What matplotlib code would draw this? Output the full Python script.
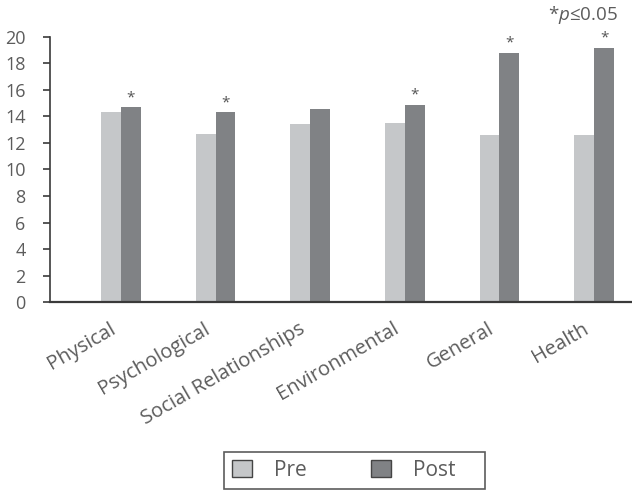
import numpy as np
import matplotlib
matplotlib.use("Agg")
import matplotlib.pyplot as plt
import matplotlib.transforms as mtransforms

categories = ["Physical", "Psychological", "Social Relationships",
              "Environmental", "General", "Health"]
pre = [14.3, 12.7, 13.4, 13.5, 12.6, 12.6]
post = [14.7, 14.3, 14.6, 14.9, 18.8, 19.2]
significant = [True, True, False, True, True, True]
yticks = list(range(0, 21, 2))

plt.rcParams["font.family"] = ["Open Sans", "DejaVu Sans"]
plt.rcParams["mathtext.fontset"] = "custom"
plt.rcParams["mathtext.it"] = "Open Sans:italic"
plt.rcParams["mathtext.rm"] = "Open Sans"

text_col = "#5c5c5c"
pre_col = "#c5c7c9"
post_col = "#808285"

fig = plt.figure(figsize=(6.32, 4.92), dpi=100)
ax = fig.add_axes([0.079, 0.386, 0.921, 0.539])

x = np.arange(len(categories))
w = 0.21
ax.bar(x - w / 2, pre, w, color=pre_col, label="Pre", linewidth=0)
ax.bar(x + w / 2, post, w, color=post_col, label="Post", linewidth=0)

for xi, v, s in zip(x, post, significant):
    if s:
        ax.text(xi + w / 2, v + 0.15, "*", ha="center", va="bottom",
                fontsize=11, color="#555555")

ax.set_xlim(-0.75, 5.40)
ax.set_ylim(0, 20)
ax.set_yticks(yticks)
ax.tick_params(axis="y", labelsize=13, colors="#3a3a3a", labelcolor=text_col,
               length=5, width=1.2, direction="out", pad=12.5)
ax.tick_params(axis="x", length=0, pad=7)
ax.set_xticks(x)
ax.set_xticklabels(categories, rotation=30, ha="right",
                   rotation_mode="anchor", fontsize=14.5, color=text_col)
# labels sit a bit left of and below the group centre
shift = mtransforms.ScaledTranslation(-12 / 100, -7 / 100, fig.dpi_scale_trans)
for lab in ax.get_xticklabels():
    lab.set_transform(lab.get_transform() + shift)

for sp in ["top", "right"]:
    ax.spines[sp].set_visible(False)
ax.spines["left"].set_color("#3a3a3a")
ax.spines["bottom"].set_color("#3a3a3a")
ax.spines["left"].set_linewidth(1.2)
ax.spines["bottom"].set_linewidth(1.6)

fig.text(0.978, 0.970, r"*$p$≤0.05", ha="right", va="center",
         fontsize=13.5, color=text_col)

leg = fig.legend(["Pre", "Post    "], loc="center",
                 bbox_to_anchor=(0.561, 0.044), ncol=2,
                 frameon=True, fancybox=False, fontsize=15,
                 handlelength=0.95, handleheight=0.85, columnspacing=3.1,
                 handletextpad=1.05, borderpad=0.4, labelcolor=text_col,
                 edgecolor="#333333")
leg.get_frame().set_linewidth(1.2)
for h in leg.legend_handles:
    h.set_edgecolor("#444444")
    h.set_linewidth(1.0)

fig.savefig("out.png", dpi=100)
